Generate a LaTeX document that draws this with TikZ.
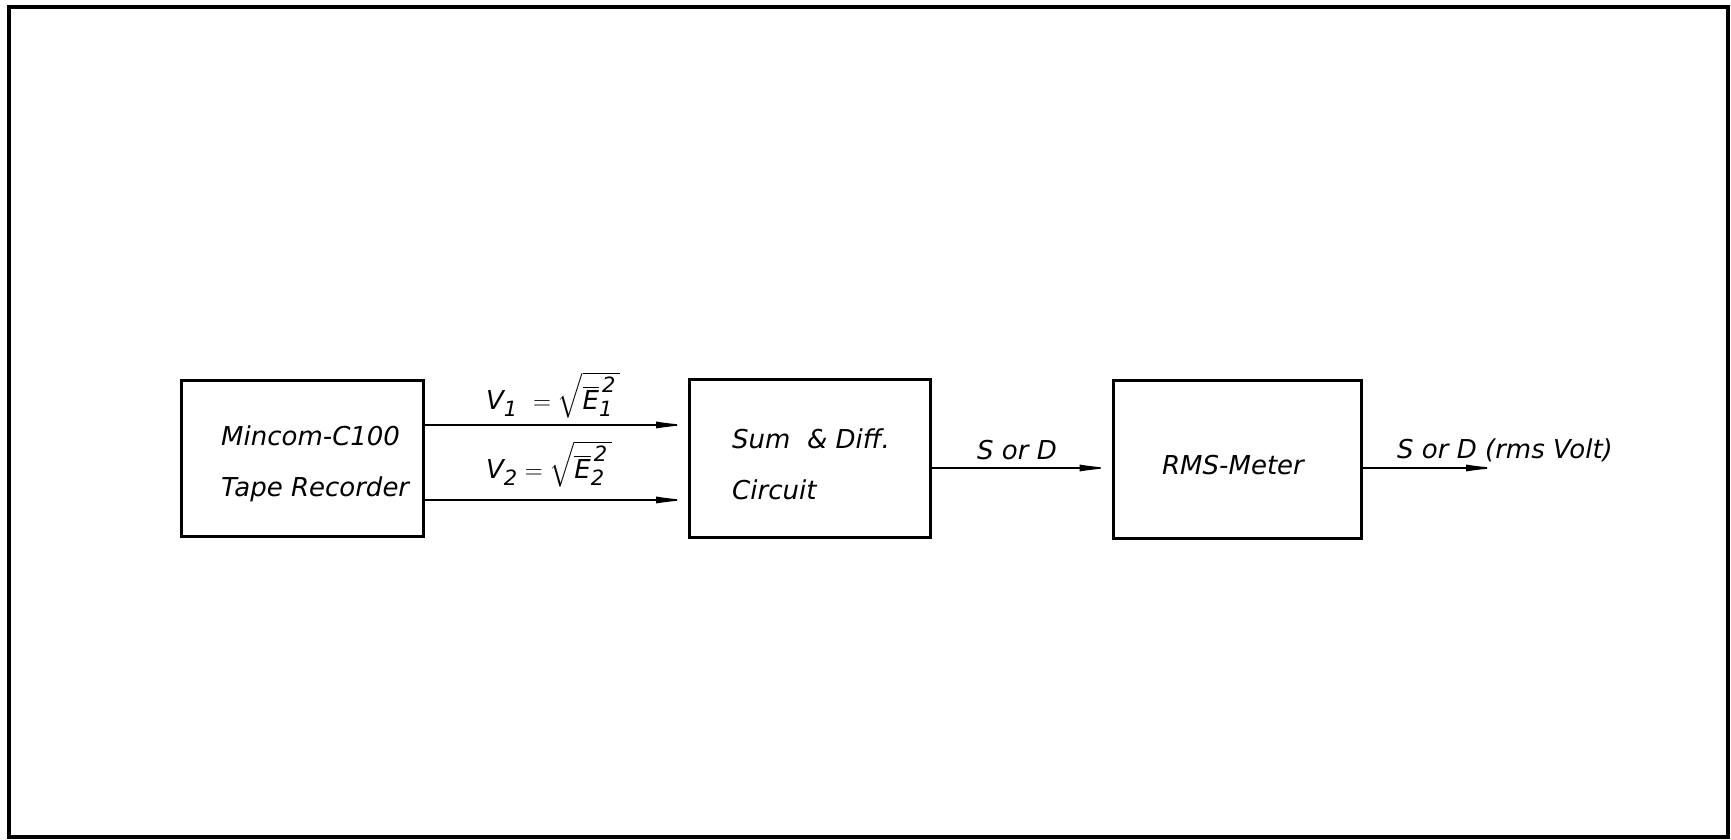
\documentclass[tikz,border=0pt]{standalone}
\usepackage{amsmath}
\usepackage{fontspec}
\setmainfont{DejaVu Sans}
\usetikzlibrary{arrows.meta}
\newcommand{\supsz}[1]{\mbox{\fontsize{21}{21}\selectfont\itshape #1}}
\begin{document}
\begin{tikzpicture}[x=1pt,y=1pt,
  blk/.style={draw,line width=3pt,inner sep=0pt},
  txt/.style={align=left,inner sep=0pt,anchor=west,
    font=\fontsize{26}{51}\selectfont\itshape},
  conn/.style={line width=1.6pt,-{Latex[length=32pt,width=7pt]}},
  lbl/.style={font=\fontsize{26}{28}\selectfont\itshape,inner sep=0pt}]
\useasboundingbox (0,0) rectangle (1731,840);
\draw[line width=4pt] (9,3) rectangle (1728,833);
\node[blk,minimum width=242pt,minimum height=156pt] (rec) at (302,381) {};
\node[blk,minimum width=241pt,minimum height=158pt] (sum) at (810,381) {};
\node[blk,minimum width=248pt,minimum height=158pt] (rms) at (1237,380) {};
\node[txt] (rect) at (221,376) {Mincom-C100\\Tape Recorder};
\node[txt] (sumt) at (732,376) {Sum\ \ \& Diff.\\Circuit};
\node[txt,anchor=center] (rmst) at (1233,375) {RMS-Meter};
\coordinate (out) at (1498,372);
\draw[conn] ([yshift=34pt]rec.east) -- ([yshift=34pt]sum.west);
\draw[conn] ([yshift=-41pt]rec.east) -- ([yshift=-41pt]sum.west);
\draw[conn] ([yshift=-9pt]sum.east) -- ([yshift=-8pt]rms.west);
\draw[conn] ([yshift=-8pt]rms.east) -- (out);
\node[lbl,anchor=west] (v1) at (486,445) {$\textit{V}_{\supsz{1}}\ = \sqrt{\overline{\textit{E}}_{\supsz{1}}^{\,\supsz{2}}\,}$};
\node[lbl,anchor=west] (v2) at (486,376) {$\textit{V}_{\supsz{2}} = \sqrt{\overline{\textit{E}}_{\supsz{2}}^{\,\supsz{2}}\,}$};
\node[lbl] (sd) at (1017,390) {S or D};
\node[lbl,anchor=west] (sdv) at (1397,390) {S or D (rms Volt)};
\end{tikzpicture}
\end{document}
